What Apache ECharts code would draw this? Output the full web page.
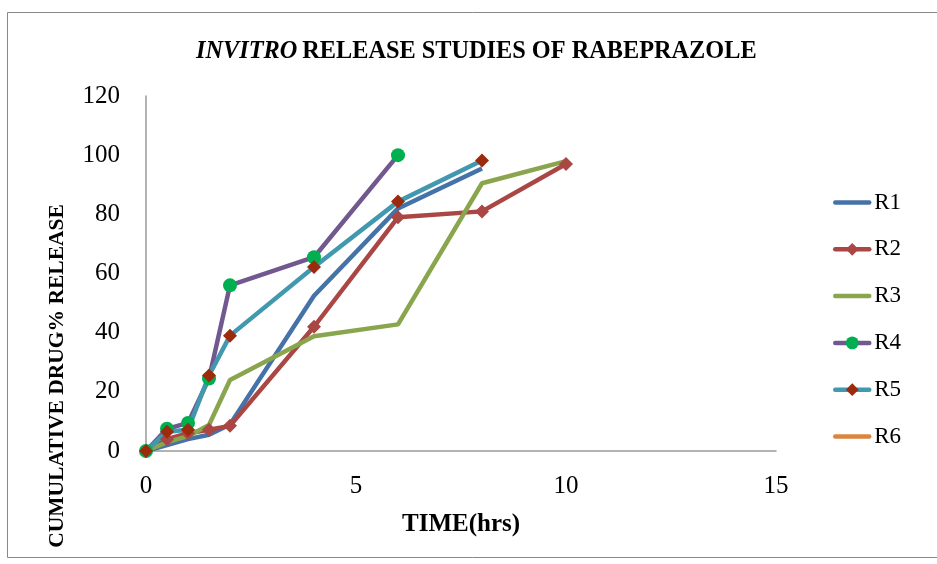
<!DOCTYPE html>
<html>
<head>
<meta charset="utf-8">
<script src="https://cdn.jsdelivr.net/npm/echarts@6/dist/echarts.min.js"></script>
<style>html,body{margin:0;padding:0;background:#fff;}#c{width:937px;height:564px;}</style>
</head>
<body>
<div id="c"></div>
<script>
var timeHrs = [0, 0.5, 1, 1.5, 2, 4, 6, 8, 10];
var seriesNames = ['R1', 'R2', 'R3', 'R4', 'R5', 'R6'];
var R1 = [0, 2, 4, 5.5, 9, 52.5, 82, 95.5];
var R2 = [0, 4, 6, 7.2, 8.5, 42, 79, 81, 97];
var R3 = [0, 3, 5, 8.8, 24, 38.8, 42.8, 90.5, 98];
var R4 = [0, 7.5, 9.5, 24.5, 56, 65.5, 100];
var R5 = [0, 6.5, 7.2, 25.5, 39, 62.2, 84.3, 98.2];
var R6 = [];
var xTicks = [0, 5, 10, 15];
var yTicks = [0, 20, 40, 60, 80, 100, 120];

function pairs(vals) { return vals.map(function (v, i) { return [timeHrs[i], v]; }); }

var FONT = 'Liberation Serif';
var colors = ['#4572A7', '#AA4643', '#89A54E', '#71588F', '#4198AF', '#DB843D'];
var symbols = ['none', 'diamond', 'none', 'circle', 'diamond', 'none'];
var symColors = [null, '#AA4643', null, '#00B050', '#9C2A0C', null];
var allData = [R1, R2, R3, R4, R5, R6];

var series = seriesNames.map(function (n, i) {
  return {
    name: n,
    type: 'line',
    data: pairs(allData[i]),
    symbol: symbols[i],
    symbolSize: 14,
    showSymbol: symbols[i] !== 'none',
    lineStyle: { color: colors[i], width: 4.5 },
    itemStyle: { color: symColors[i] || colors[i] },
    color: colors[i],
    emphasis: { disabled: true },
    animation: false
  };
});

var legendData = seriesNames.map(function (n, i) {
  var d = { name: n };
  if (symbols[i] === 'none') { d.itemStyle = { opacity: 0 }; }
  return d;
});

var chart = echarts.init(document.getElementById('c'));
chart.setOption({
  animation: false,
  backgroundColor: '#fff',
  title: {
    text: '{i|INVITRO} {b|RELEASE STUDIES OF RABEPRAZOLE}',
    left: 196,
    top: 40,
    padding: 0,
    textStyle: {
      rich: {
        i: { fontFamily: FONT, fontSize: 24.3, fontWeight: 'bold', fontStyle: 'italic', color: '#000' },
        b: { fontFamily: FONT, fontSize: 24.3, fontWeight: 'bold', color: '#000' }
      }
    }
  },
  grid: { left: 146, right: 161, top: 96, bottom: 113, containLabel: false },
  legend: {
    orient: 'vertical',
    left: 833,
    top: 191,
    padding: 0,
    itemWidth: 34,
    itemHeight: 16,
    itemGap: 23.8,
    lineStyle: { width: 4.5, cap: 'round' },
    textStyle: { fontFamily: FONT, fontSize: 23, color: '#000', lineHeight: 23 },
    data: legendData
  },
  xAxis: {
    type: 'value',
    min: xTicks[0], max: xTicks[xTicks.length - 1], interval: 5,
    name: 'TIME(hrs)',
    nameLocation: 'middle',
    nameGap: 61,
    nameTextStyle: { fontFamily: FONT, fontSize: 25, fontWeight: 'bold', color: '#000' },
    axisLine: { show: true, lineStyle: { color: '#999', width: 1.5 } },
    axisTick: { show: false },
    splitLine: { show: false },
    axisLabel: { fontFamily: FONT, fontSize: 25, color: '#000', margin: 23 }
  },
  yAxis: {
    type: 'value',
    min: yTicks[0], max: yTicks[yTicks.length - 1], interval: 20,
    axisLine: { show: true, lineStyle: { color: '#999', width: 1.5 } },
    axisTick: { show: false },
    splitLine: { show: false },
    axisLabel: { fontFamily: FONT, fontSize: 25, color: '#000', margin: 26 }
  },
  graphic: [
    {
      type: 'rect',
      shape: { x: 7.5, y: 12.5, width: 940, height: 545 },
      style: { fill: 'none', stroke: '#888', lineWidth: 1 },
      silent: true, z: -1
    },
    {
      type: 'text',
      x: 57, y: 376,
      rotation: Math.PI / 2,
      style: {
        text: 'CUMULATIVE DRUG% RELEASE',
        font: 'bold 21.5px "Liberation Serif"',
        fill: '#000',
        align: 'center',
        verticalAlign: 'middle'
      },
      silent: true
    }
  ],
  series: series
});
</script>
</body>
</html>
